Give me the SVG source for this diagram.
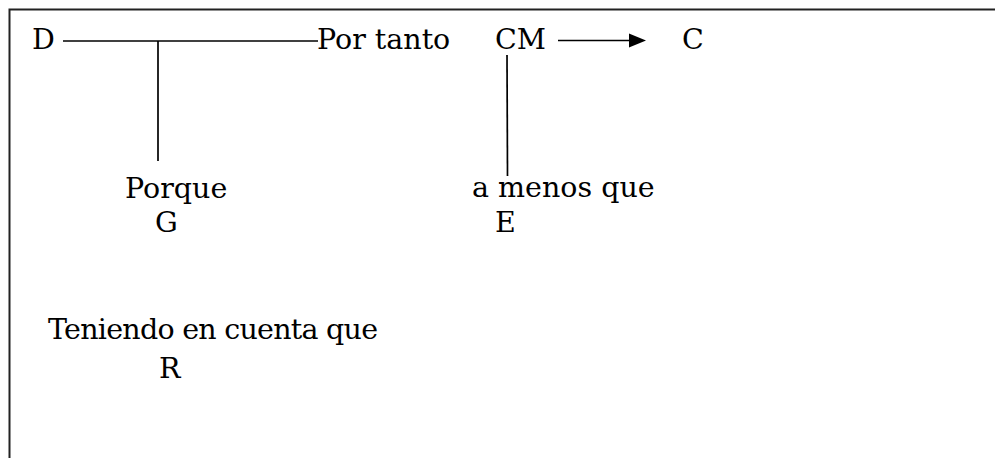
<svg xmlns="http://www.w3.org/2000/svg" width="995" height="458" viewBox="0 0 995 458">
  <style>
    .t { font-family: "DejaVu Serif", "Liberation Serif", serif; font-size: 28.5px; fill: #000; }
    .ln { stroke: #000; stroke-width: 1.7; fill: none; }
    .frame { stroke: #222; stroke-width: 2; fill: none; }
  </style>
  <rect class="frame" x="9.5" y="9.5" width="1000" height="470"/>
  <g id="connectors">
    <line class="ln" x1="63" y1="41" x2="318" y2="41"/>
    <line class="ln" x1="158" y1="41" x2="158" y2="161"/>
    <line class="ln" x1="507" y1="55" x2="507.5" y2="176"/>
    <line class="ln" x1="558" y1="40.5" x2="632" y2="40.5"/>
    <polygon points="629,33.5 646,40.5 629,47.5" fill="#000"/>
  </g>
  <g id="node-D"><text class="t" x="32" y="49">D</text></g>
  <g id="node-portanto"><text class="t" x="317" y="49">Por tanto</text></g>
  <g id="node-CM"><text class="t" x="495" y="49">CM</text></g>
  <g id="node-C"><text class="t" x="682" y="49">C</text></g>
  <g id="node-G">
    <text class="t" x="125" y="198">Porque</text>
    <text class="t" x="155" y="232">G</text>
  </g>
  <g id="node-E">
    <text class="t" x="472" y="197">a menos que</text>
    <text class="t" x="495" y="232">E</text>
  </g>
  <g id="node-R">
    <text class="t" x="48" y="339" textLength="330" lengthAdjust="spacing">Teniendo en cuenta que</text>
    <text class="t" x="159" y="378">R</text>
  </g>
</svg>
